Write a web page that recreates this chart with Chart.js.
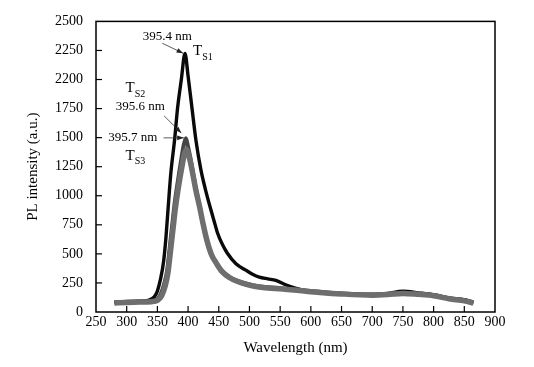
<!DOCTYPE html>
<html><head><meta charset="utf-8">
<script src="https://cdn.jsdelivr.net/npm/chart.js@4/dist/chart.umd.min.js"></script>
<style>html,body{margin:0;padding:0;background:#fff;}canvas{display:block;}</style>
</head><body>
<canvas id="c" width="534" height="367"></canvas>
<script>
const ts1Wavelengths = [280,300,320,335,345,350,355,360,364,368,372,378,383,389,395,400,406,413,421,428,435,442,448,456,464,478,494,505,516,530,543,560,576,592,608,625,650,675,700,725,750,775,800,825,850,865];
const ts1Values      = [85,90,92,100,130,180,280,430,645,930,1200,1480,1760,2000,2225,2030,1770,1470,1220,1060,920,790,680,580,505,415,360,325,300,285,272,232,203,183,172,162,155,152,150,160,180,165,148,122,105,85];
const ts2Wavelengths = [280,300,320,340,350,356,362,366,369,372,375,378,382,386,390,393,396.5,400,404,408,412,418,423,429,437,445,454,467,480,494,507,521,554,580,614,650,700,725,750,775,800,825,850,865];
const ts2Values      = [82,86,88,92,110,160,260,360,500,645,790,930,1080,1216,1350,1440,1495,1420,1320,1200,1080,930,790,645,502,430,360,302,270,245,228,217,203,190,174,160,150,155,165,158,145,118,100,82];
const ts3Wavelengths = [280,300,320,340,350,357,363,367,370,373,376,379,383,387,391,394,397.5,401,405,409,413,419,424,430,438,446,455,468,481,495,508,522,555,581,615,650,700,725,750,775,800,825,850,865];
const ts3Values      = [78,82,85,89,100,140,230,330,460,600,740,880,1030,1160,1280,1360,1400,1350,1260,1150,1040,900,770,630,495,420,350,295,262,238,222,210,198,185,168,155,145,150,160,152,140,114,96,78];
const seriesNames = ["TS1","TS2","TS3"];
const xTicks = [250,300,350,400,450,500,550,600,650,700,750,800,850,900];
const yTickValues = [0,250,500,750,1000,1250,1500,1750,2000,2250,2500];
const yTickLabels = ["0","250","500","750","1000","1250","1500","1750","2200","2250","2500"];

const pts = (ws, vs) => ws.map((w,i)=>({x:w,y:vs[i]}));
const serif = "'Liberation Serif','Times New Roman',serif";

// annotations in data coordinates
const notes = [
  {type:'text', text:'395.4 nm', x:366, y:2371},
  {type:'sub', main:'T', sub:'S1', x:408, y:2243},
  {type:'sub', main:'T', sub:'S2', x:298, y:1926},
  {type:'text', text:'395.6 nm', x:322, y:1764},
  {type:'text', text:'395.7 nm', x:310, y:1498},
  {type:'sub', main:'T', sub:'S3', x:298, y:1344},
  {type:'arrow', x1:358, y1:2312, x2:392, y2:2226},
  {type:'arrow', x1:361, y1:1687, x2:389, y2:1540},
  {type:'arrow', x1:360, y1:1498, x2:393, y2:1498}
];

const deco = {
  id:'deco',
  afterDraw(chart){
    const {ctx, chartArea:a, scales:{x,y}} = chart;
    ctx.save();
    ctx.strokeStyle='#000'; ctx.lineWidth=1.5;
    ctx.strokeRect(a.left, a.top, a.right-a.left, a.bottom-a.top);
    ctx.lineWidth=1.2;
    xTicks.forEach(v=>{ if(v===250||v===900) return; const px=x.getPixelForValue(v); ctx.beginPath(); ctx.moveTo(px,a.bottom); ctx.lineTo(px,a.bottom-6); ctx.stroke();});
    yTickValues.forEach(v=>{ if(v===0||v===2500) return; const py=y.getPixelForValue(v); ctx.beginPath(); ctx.moveTo(a.left,py); ctx.lineTo(a.left+6,py); ctx.stroke();});
    ctx.fillStyle='#000'; ctx.textBaseline='middle';
    notes.forEach(n=>{
      if(n.type==='text'){
        ctx.font='13px '+serif; ctx.textAlign='center';
        ctx.fillText(n.text, x.getPixelForValue(n.x), y.getPixelForValue(n.y));
      } else if(n.type==='sub'){
        const px=x.getPixelForValue(n.x), py=y.getPixelForValue(n.y);
        ctx.textAlign='left';
        ctx.font='15px '+serif; ctx.fillText(n.main, px, py);
        const w=ctx.measureText(n.main).width;
        ctx.font='10px '+serif; ctx.fillText(n.sub, px+w, py+6);
      } else if(n.type==='arrow'){
        const x1=x.getPixelForValue(n.x1), y1=y.getPixelForValue(n.y1), x2=x.getPixelForValue(n.x2), y2=y.getPixelForValue(n.y2);
        ctx.strokeStyle='#333'; ctx.lineWidth=0.8;
        ctx.beginPath(); ctx.moveTo(x1,y1); ctx.lineTo(x2,y2); ctx.stroke();
        const ang=Math.atan2(y2-y1,x2-x1), L=7, W=0.35;
        ctx.beginPath(); ctx.moveTo(x2,y2);
        ctx.lineTo(x2-L*Math.cos(ang-W), y2-L*Math.sin(ang-W));
        ctx.lineTo(x2-L*Math.cos(ang+W), y2-L*Math.sin(ang+W));
        ctx.closePath(); ctx.fillStyle='#222'; ctx.fill();
        ctx.fillStyle='#000';
      }
    });
    ctx.restore();
  }
};

new Chart(document.getElementById('c'), {
  type:'line',
  data:{datasets:[
    {label:seriesNames[2], data:pts(ts3Wavelengths, ts3Values), borderColor:'#6e6e6e', borderWidth:5.5, pointRadius:0, cubicInterpolationMode:'monotone', fill:false},
    {label:seriesNames[1], data:pts(ts2Wavelengths, ts2Values), borderColor:'#454545', borderWidth:4, pointRadius:0, cubicInterpolationMode:'monotone', fill:false},
    {label:seriesNames[0], data:pts(ts1Wavelengths, ts1Values), borderColor:'#0a0a0a', borderWidth:3.4, pointRadius:0, cubicInterpolationMode:'monotone', fill:false}
  ]},
  options:{
    responsive:false, animation:false,
    layout:{padding:{left:0, right:39, top:20, bottom:0}},
    plugins:{legend:{display:false}, tooltip:{enabled:false}},
    scales:{
      x:{type:'linear', min:250, max:900,
        afterBuildTicks(s){ s.ticks = xTicks.map(v=>({value:v})); },
        afterFit(s){ s.height=55; },
        grid:{display:false, drawTicks:false}, border:{display:false},
        ticks:{padding:2, color:'#000', font:{family:serif, size:14}, maxRotation:0, autoSkip:false},
        title:{display:true, text:'Wavelength (nm)', color:'#000', font:{family:serif, size:15}, padding:{top:0,bottom:10}}
      },
      y:{min:0, max:2500,
        afterBuildTicks(s){ s.ticks = yTickValues.map(v=>({value:v})); },
        afterFit(s){ s.width=96; },
        grid:{display:false, drawTicks:false}, border:{display:false},
        ticks:{padding:13, color:'#000', font:{family:serif, size:14}, autoSkip:false,
          callback:(v,i)=> yTickLabels[yTickValues.indexOf(v)] },
        title:{display:true, text:'PL intensity (a.u.)', color:'#000', font:{family:serif, size:15}, padding:{top:24,bottom:0}}
      }
    }
  },
  plugins:[deco]
});
</script>
</body></html>
